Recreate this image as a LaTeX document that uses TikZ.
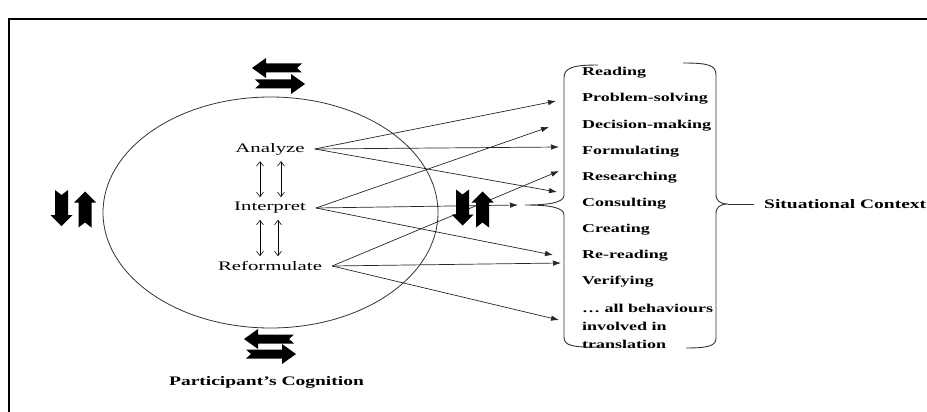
\documentclass[tikz,border=0pt]{standalone}
\usepackage{fontspec}
\setmainfont{Liberation Serif}
\newfontfamily\wideserif[FakeStretch=1.6]{Liberation Serif}
\newfontfamily\widebold[FakeStretch=1.5]{Liberation Serif}
\usetikzlibrary{arrows.meta, positioning}

\begin{document}
\begin{tikzpicture}[x=1pt, y=-1pt]

        % Setup the styles for the texts, links and fat arrows
        \tikzset{verb/.style={font=\wideserif\fontsize{13}{15}\selectfont,
                              inner xsep=10pt,
                              inner ysep=2pt},
                 behaviour/.style={font=\widebold\bfseries\fontsize{12}{18}\selectfont,
                                   anchor=west,
                                   align=left,
                                   inner sep=0pt},
                 caption/.style={font=\widebold\bfseries\fontsize{13}{15}\selectfont},
                 link/.style={-{Latex[length=8pt, width=5.5pt]},
                              line width=0.7pt,
                              draw=black!85},
                 swap/.style={{Straight Barb[length=4.5pt, width=7pt]}-{Straight Barb[length=4.5pt, width=7pt]},
                              line width=0.6pt,
                              shorten <=4pt,
                              shorten >=3pt},
                 bracket/.style={line width=0.9pt, draw=black!80},
                 pics/hblock/.style={code={
                     \fill (-25, -4.5) -- (11, -4.5) -- (11, -10) -- (25, 0) -- (11, 10)
                           -- (11, 4.5) -- (-25, 4.5) -- (-20, 0) -- cycle;}},
                 pics/vblock/.style={code={
                     \fill (-6.5, -18) -- (0, -13) -- (6.5, -18) -- (6.5, 7) -- (11, 7)
                           -- (0, 18) -- (-11, 7) -- (-6.5, 7) -- cycle;}}}

        \useasboundingbox (0, 0) rectangle (927, 412);

        % Frame and the cognition ellipse
        \draw[line width=1.5pt] (9, 412) -- (9, 19) -- (927, 19);
        \draw[line width=0.8pt, draw=black!80] (270.5, 212.5) ellipse [x radius=167.5, y radius=115.5];

        % Draw the cognitive steps
        \node[verb] at (270, 149) (analyze)     {Analyze};
        \node[verb] at (270, 208) (interpret)   {Interpret};
        \node[verb] at (270, 266) (reformulate) {Reformulate};

        \draw[swap] ([xshift=-10pt]analyze.south)   -- ([xshift=-10pt]interpret.north);
        \draw[swap] ([xshift=11pt]analyze.south)    -- ([xshift=11pt]interpret.north);
        \draw[swap] ([xshift=-10pt]interpret.south) -- ([xshift=-10pt]reformulate.north);
        \draw[swap] ([xshift=8pt]interpret.south)   -- ([xshift=8pt]reformulate.north);

        % Draw the behaviours
        \node[behaviour] at (582, 73)  (reading)    {Reading};
        \node[behaviour] at (582, 99)  (problem)    {Problem-solving};
        \node[behaviour] at (582, 126) (decision)   {Decision-making};
        \node[behaviour] at (582, 152) (formulate)  {Formulating};
        \node[behaviour] at (582, 178) (research)   {Researching};
        \node[behaviour] at (582, 204) (consult)    {Consulting};
        \node[behaviour] at (582, 230) (create)     {Creating};
        \node[behaviour] at (582, 256) (reread)     {Re-reading};
        \node[behaviour] at (582, 282) (verify)     {Verifying};
        \node[behaviour] at (582, 326) (allbehav)   {… all behaviours\\involved in\\translation};

        % Braces round the behaviours
        \coordinate (lbtip) at (525, 205);
        \coordinate (rbtip) at (728, 204);
        \draw[bracket] (598, 65) .. controls (572, 65) and (564, 68) .. (564, 78)
                       -- (564, 195) .. controls (564, 202) and (552, 205) .. (lbtip)
                       .. controls (552, 205) and (564, 208) .. (564, 215)
                       -- (564, 337) .. controls (564, 345) and (570, 348) .. (604, 347);
        \draw[bracket] (683, 63) .. controls (708, 63) and (716, 65) .. (716, 75)
                       -- (716, 194) .. controls (716, 201) and (720, 204) .. (rbtip)
                       .. controls (720, 204) and (716, 207) .. (716, 214)
                       -- (716, 338) .. controls (716, 346) and (708, 348) .. (686, 348);

        \node[caption, anchor=west, inner xsep=10pt] at (754, 204) (context) {Situational Context};
        \draw[bracket] (rbtip) -- (context.west);

        \node[caption] at (266.5, 382) (cognition) {Participant’s Cognition};

        % Arrow ends beside the behaviours
        \coordinate (tip1) at (556, 101);
        \coordinate (tip2) at (559, 147);
        \coordinate (tip3) at (557, 192);
        \coordinate (tip4) at (549, 127);
        \coordinate (tip5) at (518, 205);
        \coordinate (tip6) at (553, 255);
        \coordinate (tip7) at (559, 171);
        \coordinate (tip8) at (561, 263);
        \coordinate (tip9) at (559, 320);

        % Connect the steps with the behaviours
        \draw[link] (analyze.east)     -- (tip1);
        \draw[link] (analyze.east)     -- (tip2);
        \draw[link] (analyze.east)     -- (tip3);
        \draw[link] (interpret.east)   -- (tip4);
        \draw[link] (interpret.east)   -- (tip5);
        \draw[link] (interpret.east)   -- (tip6);
        \draw[link] (reformulate.east) -- (tip7);
        \draw[link] (reformulate.east) -- (tip8);
        \draw[link] (reformulate.east) -- (tip9);

        % Fat arrows round the ellipse
        \pic[xscale=-1] at (277, 68)  {hblock};
        \pic            at (280, 84)  {hblock};
        \pic[xscale=-1] at (269, 339) {hblock};
        \pic            at (271, 354) {hblock};
        \pic            at (61.5, 208)  {vblock};
        \pic[yscale=-1] at (85, 209.5)  {vblock};
        \pic            at (462.5, 207.5) {vblock};
        \pic[yscale=-1] at (482.5, 209.5) {vblock};
    \end{tikzpicture}
\end{document}
